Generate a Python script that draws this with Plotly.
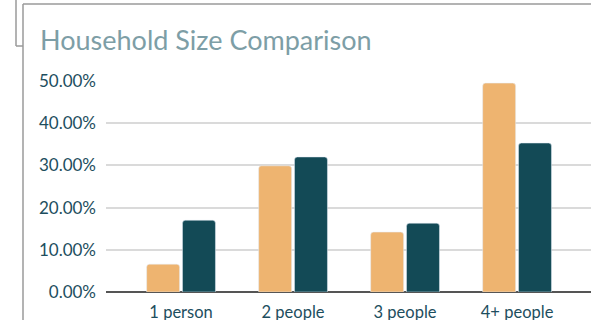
import plotly.graph_objects as go

categories = ["1 person", "2 people", "3 people", "4+ people"]
series_a = [0.066, 0.299, 0.142, 0.495]
series_b = [0.170, 0.320, 0.163, 0.353]
series_names = ["Group A", "Group B"]
y_ticks = [0, 0.1, 0.2, 0.3, 0.4, 0.5]

W, H = 591, 320
L, R, T, B = 106, 0, 81, 28
pw, ph = W - L - R, H - T - B


def px(x):
    return (x - L) / pw


def py(y):
    return (H - B - y) / ph


fig = go.Figure()
fig.add_trace(go.Bar(x=categories, y=series_a, name=series_names[0], marker_color="#eeb470"))
fig.add_trace(go.Bar(x=categories, y=series_b, name=series_names[1], marker_color="#134a56"))

line = dict(color="#9a9a9a", width=1.5)
shapes = [
    dict(type="line", xref="paper", yref="paper", x0=px(23), x1=px(23), y0=py(4), y1=py(322), line=line),
    dict(type="line", xref="paper", yref="paper", x0=px(23), x1=px(592), y0=py(4), y1=py(4), line=line),
    dict(type="line", xref="paper", yref="paper", x0=px(16), x1=px(16), y0=py(-2), y1=py(46), line=line),
    dict(type="line", xref="paper", yref="paper", x0=px(16), x1=px(23), y0=py(46), y1=py(46), line=line),
]

fig.update_layout(
    width=W, height=H,
    margin=dict(l=L, r=R, t=T, b=B, pad=0, autoexpand=False),
    paper_bgcolor="white", plot_bgcolor="white",
    font=dict(family="Lato", color="#1d4e5e", size=16),
    title=dict(text="Household Size Comparison", x=40 / W, xref="container", xanchor="left",
               y=1 - 50 / H, yanchor="bottom", yref="container",
               font=dict(size=27, color="#7d9ea6", family="Lato")),
    showlegend=False,
    barmode="group", bargap=0.36, bargroupgap=0.08, barcornerradius=3,
    shapes=shapes,
    xaxis=dict(range=[-0.67, 3.66], showgrid=False, showline=False, ticks="", automargin=False,
               tickfont=dict(size=16.5, color="#1d4e5e"), ticklabelstandoff=8),
    yaxis=dict(range=[0, 0.5], tickvals=y_ticks, tickformat=".2%", showgrid=True, automargin=False,
               gridcolor="#dadada", gridwidth=2, zeroline=True, zerolinecolor="#555555",
               zerolinewidth=2, showline=False, ticks="", ticklen=0,
               tickfont=dict(size=17, color="#1d4e5e"), ticklabelstandoff=9),
)
fig.write_html("out.html", config={"displayModeBar": False},
               post_script="document.body.style.margin='0';document.body.style.overflow='hidden';")
